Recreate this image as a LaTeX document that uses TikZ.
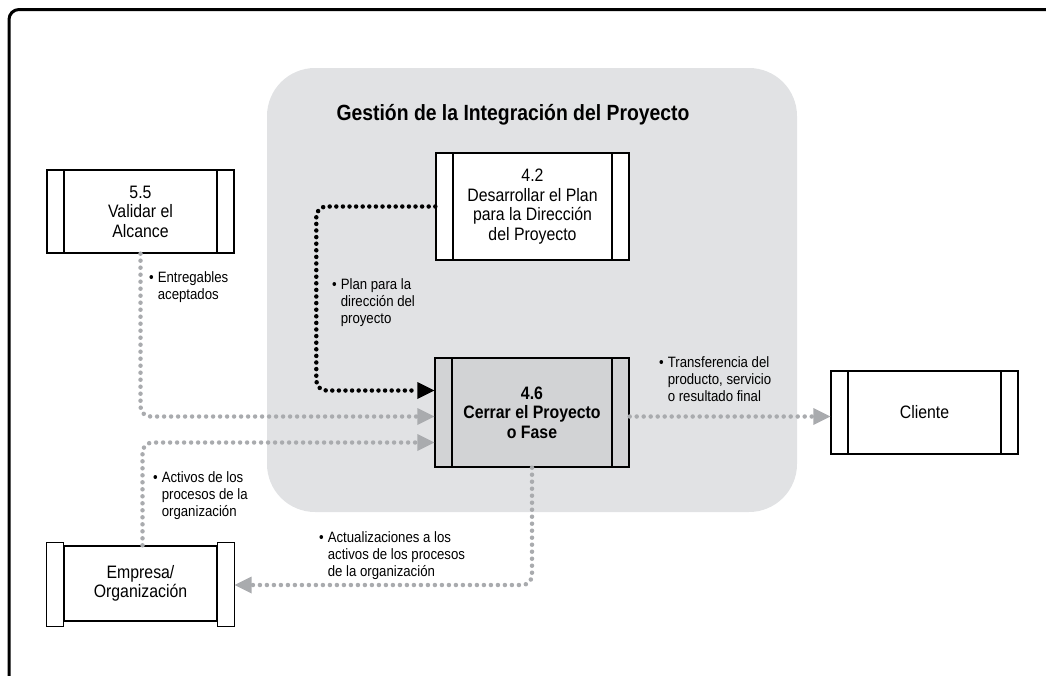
\documentclass[tikz,border=0pt]{standalone}
\usepackage{fontspec}
\setmainfont{Liberation Sans}[FakeStretch=0.88]
\usetikzlibrary{arrows.meta}
\definecolor{panel}{HTML}{E1E2E4}
\definecolor{procfill}{HTML}{D2D3D5}
\definecolor{flowgray}{HTML}{A9ABAE}
\newcommand{\flowitem}[1]{\textbullet\hspace{4pt}\begin{tabular}[t]{@{}l@{}}#1\end{tabular}}
\begin{document}
\begin{tikzpicture}[x=1pt,y=-1pt,
  proc/.style={draw,line width=1.4pt,fill=white,inner sep=0pt,align=center,
    font=\fontsize{18}{19.5}\selectfont,
    path picture={\draw[line width=1.4pt]
      ([xshift=17pt]path picture bounding box.north west) -- ([xshift=17pt]path picture bounding box.south west)
      ([xshift=-17pt]path picture bounding box.north east) -- ([xshift=-17pt]path picture bounding box.south east);}},
  note/.style={anchor=north west,inner sep=0pt,align=left,font=\fontsize{15}{17}\selectfont},
  grayflow/.style={draw=flowgray,line width=4.5pt,line cap=round,dash pattern=on 0pt off 7pt,
    rounded corners=10pt,-{Triangle[length=17pt,width=17pt,line width=0pt,fill=flowgray]}},
  blackflow/.style={draw=black,line width=4.5pt,line cap=round,dash pattern=on 0pt off 6.6pt,
    rounded corners=10pt,-{Triangle[length=17pt,width=17pt,line width=0pt,fill=black]}}]
\useasboundingbox (0,0) rectangle (1046,675);
\draw[line width=3pt,rounded corners=10pt] (1052,9.5) -- (9,9.5) -- (9,682);
\fill[panel,rounded corners=48pt] (267,68) rectangle (797,512);

\node (title) at (513,115) {\fontsize{22}{24}\selectfont\bfseries Gestión de la Integración del Proyecto};

\node[proc,minimum width=187pt,minimum height=83pt] (b55) at (140.5,211.5) {5.5\\Validar el\\Alcance};
\node[proc,minimum width=193pt,minimum height=107pt] (b42) at (532.5,206.5) {4.2\\Desarrollar el Plan\\para la Dirección\\del Proyecto};
\node[proc,fill=procfill,minimum width=194pt,minimum height=109pt] (b46) at (532,412.5) {\bfseries 4.6\\\bfseries Cerrar el Proyecto\\\bfseries o Fase};
\node[proc,minimum width=187pt,minimum height=83pt] (cli) at (924.5,412.5) {Cliente};
\node[proc,minimum width=187pt,minimum height=75pt] (emp) at (140.5,583.5) {Empresa/\\Organización};
\draw[line width=1.4pt,fill=white] ([yshift=3pt]emp.north west) rectangle ([xshift=17pt,yshift=-5pt]emp.south west);
\draw[line width=1.4pt,fill=white] ([yshift=3pt]emp.north east) rectangle ([xshift=-17pt,yshift=-5pt]emp.south east);

\draw[blackflow] (b42.west) -- ++(-119,0) |- ([yshift=22pt]b46.west);
\draw[grayflow] (b55.south) |- ([yshift=-4pt]b46.west);
\draw[grayflow] ([xshift=2pt]emp.north) |- ([yshift=-30pt]b46.west);
\draw[grayflow] ([yshift=-4pt]b46.east) -- ([yshift=-4pt]cli.west);
\draw[grayflow] (b46.south) |- ([yshift=-1.5pt]emp.east);

\node[note] (n1) at (149,270) {\flowitem{Entregables\\aceptados}};
\node[note] (n2) at (332,277) {\flowitem{Plan para la\\dirección del\\proyecto}};
\node[note] (n3) at (659,355) {\flowitem{Transferencia del\\producto, servicio\\o resultado final}};
\node[note] (n4) at (153,470) {\flowitem{Activos de los\\procesos de la\\organización}};
\node[note] (n5) at (319,530) {\flowitem{Actualizaciones a los\\activos de los procesos\\de la organización}};
\end{tikzpicture}
\end{document}
